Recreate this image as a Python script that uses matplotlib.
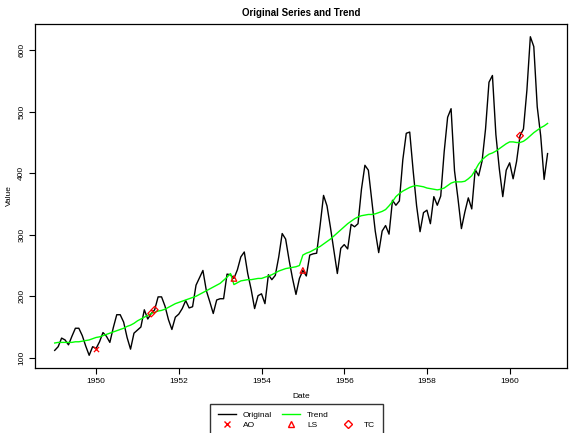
import numpy as np
import matplotlib
matplotlib.use("Agg")
import matplotlib.pyplot as plt
from matplotlib.lines import Line2D

plt.rcParams['font.family'] = ['Liberation Sans', 'DejaVu Sans']

# monthly passengers 1949-1960
passengers = [
    112, 118, 132, 129, 121, 135, 148, 148, 136, 119, 104, 118,
    115, 126, 141, 135, 125, 149, 170, 170, 158, 133, 114, 140,
    145, 150, 178, 163, 172, 178, 199, 199, 184, 162, 146, 166,
    171, 180, 193, 181, 183, 218, 230, 242, 209, 191, 172, 194,
    196, 196, 236, 235, 229, 243, 264, 272, 237, 211, 180, 201,
    204, 188, 235, 227, 234, 264, 302, 293, 259, 229, 203, 229,
    242, 233, 267, 269, 270, 315, 364, 347, 312, 274, 237, 278,
    284, 277, 317, 313, 318, 374, 413, 405, 355, 306, 271, 306,
    315, 301, 356, 348, 355, 422, 465, 467, 404, 347, 305, 336,
    340, 318, 362, 348, 363, 435, 491, 505, 404, 359, 310, 337,
    360, 342, 406, 396, 420, 472, 548, 559, 463, 407, 362, 405,
    417, 391, 419, 461, 472, 535, 622, 606, 508, 461, 390, 432,
]

# trend
trend = [
    124, 125, 125, 125, 125, 125, 126, 126, 127, 128, 129, 131,
    133, 134, 136, 138, 140, 142, 144, 146, 148, 151, 153, 156,
    160, 163, 166, 169, 172, 174, 176, 177, 179, 182, 185, 188,
    190, 192, 194, 196, 198, 200, 203, 206, 209, 212, 215, 218,
    221, 226, 231, 237, 219, 222, 225, 226, 227, 227, 228, 229,
    229, 231, 233, 235, 238, 241, 243, 245, 246, 247, 248, 250,
    267, 270, 272, 275, 278, 281, 285, 289, 293, 298, 303, 308,
    313, 318, 322, 326, 329, 331, 332, 333, 333, 334, 336, 338,
    341, 347, 354, 362, 367, 371, 374, 377, 379, 380, 379, 378,
    376, 375, 374, 373, 374, 376, 380, 384, 386, 386, 386, 387,
    391, 396, 405, 415, 422, 427, 431, 433, 436, 440, 444, 448,
    451, 451, 450, 450, 452, 456, 461, 466, 470, 474, 477, 481,
]

# outliers: (time, value)
ao_time = [1950.0]
ao_value = [115]
ls_time = [1953 + 4 / 12, 1955.0]
ls_value = [229, 242]
tc_time = [1951 + 4 / 12, 1951 + 5 / 12, 1960 + 3 / 12]
tc_value = [172, 178, 461]

t = 1949 + np.arange(len(passengers)) / 12

fig = plt.figure(figsize=(5.69, 4.33), dpi=100)
ax = fig.add_axes([0.0615, 0.150, 0.9355, 0.7946])

ax.plot(t, passengers, color='black', lw=1.0)
ax.plot(t, trend, color='#00ff00', lw=1.0)
ax.scatter(ao_time, ao_value, marker='x', color='red', s=14, lw=0.9, zorder=3)
ax.scatter(ls_time, ls_value, marker='^', facecolors='none', edgecolors='red', s=16, lw=0.9, zorder=3)
ax.scatter(tc_time, tc_value, marker='D', facecolors='none', edgecolors='red', s=12, lw=0.9, zorder=3)

span = t[-1] - t[0]
ax.set_xlim(t[0] - 0.04 * span, t[-1] + 0.04 * span)
ymin, ymax = min(passengers), max(passengers)
ax.set_ylim(ymin - 0.04 * (ymax - ymin), ymax + 0.04 * (ymax - ymin))

ax.set_xticks([1950, 1952, 1954, 1956, 1958, 1960])
ax.set_yticks([100, 200, 300, 400, 500, 600])
ax.tick_params(labelsize=6, length=4, width=0.8, pad=3)
for lab in ax.get_yticklabels():
    lab.set_rotation(90)
    lab.set_va('center')
for s in ax.spines.values():
    s.set_linewidth(0.9)

ax.set_title('Original Series and Trend', fontsize=7, fontweight='bold', pad=6)
ax.set_xlabel('Date', fontsize=6, labelpad=6)
ax.set_ylabel('Value', fontsize=6, labelpad=4)

blank = Line2D([], [], linestyle='none')
handles = [
    Line2D([], [], color='black', lw=1.0),
    Line2D([], [], color='red', marker='x', linestyle='none', markersize=5),
    Line2D([], [], color='#00ff00', lw=1.0),
    Line2D([], [], color='red', marker='^', markerfacecolor='none', linestyle='none', markersize=5),
    blank,
    Line2D([], [], color='red', marker='D', markerfacecolor='none', linestyle='none', markersize=4),
]
labels = ['Original', 'AO', 'Trend', 'LS', '', 'TC']
fig.legend(handles, labels, ncol=3, loc='upper center', bbox_to_anchor=(0.521, 0.068),
           fontsize=6, frameon=True, fancybox=False, edgecolor='black',
           handlelength=2.2, columnspacing=1.2, labelspacing=0.25,
           borderpad=0.9, handletextpad=0.8, borderaxespad=0)

fig.savefig('out.png', dpi=100)
